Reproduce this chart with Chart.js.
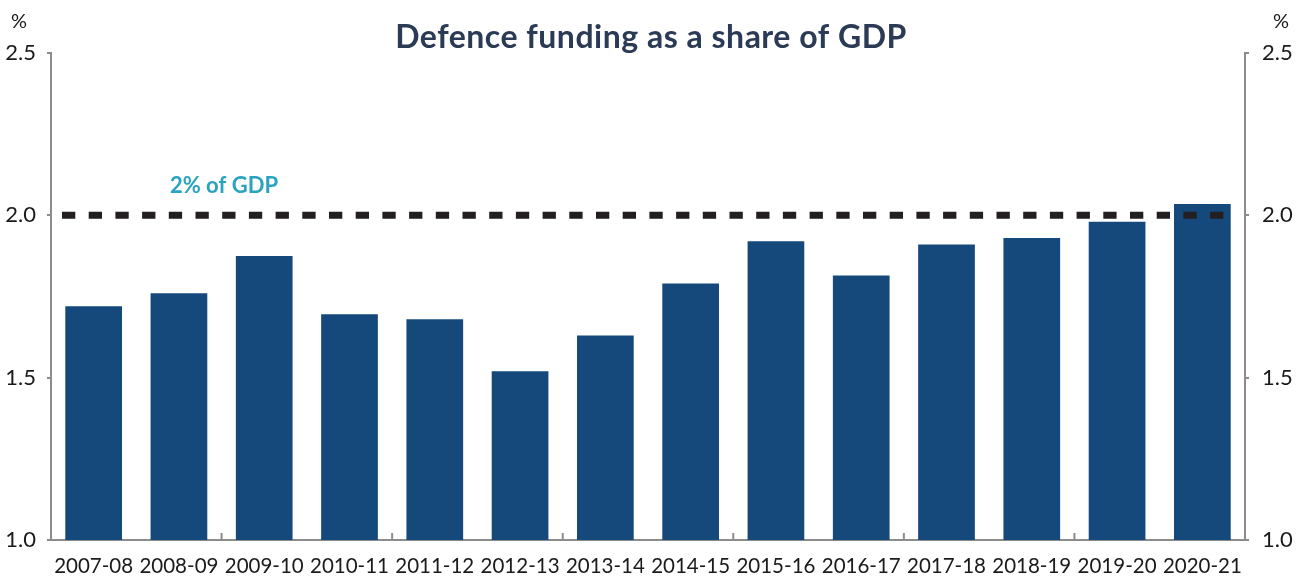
<!DOCTYPE html>
<html>
<head>
<meta charset="utf-8">
<script src="https://cdn.jsdelivr.net/npm/chart.js@4.4.1/dist/chart.umd.min.js"></script>
<style>
html,body{margin:0;padding:0;background:#fff;}
#wrap{width:1304px;height:577px;position:relative;}
</style>
</head>
<body>
<div id="wrap"><canvas id="c" width="1304" height="577"></canvas></div>
<script>
const categories = ["2007-08","2008-09","2009-10","2010-11","2011-12","2012-13","2013-14","2014-15","2015-16","2016-17","2017-18","2018-19","2019-20","2020-21"];
const funding = [1.72,1.76,1.875,1.695,1.68,1.52,1.63,1.79,1.92,1.815,1.91,1.93,1.98,2.035];
const yTicks = [1.0,1.5,2.0,2.5];
const targetValue = 2.0;
const targetLabel = "2% of GDP";
const titleText = "Defence funding as a share of GDP";
const unitText = "%";

const FONT = "Lato, 'DejaVu Sans', sans-serif";
const AXIS = "#8c8c8c";

const overlay = {
  id: 'overlay',
  afterDatasetsDraw(chart) {
    const {ctx, chartArea, scales} = chart;
    const y = scales.y.getPixelForValue(targetValue);
    ctx.save();
    ctx.strokeStyle = "#231f20";
    ctx.lineWidth = 7;
    ctx.setLineDash([13.3, 13.4]);
    ctx.beginPath();
    ctx.moveTo(chartArea.left + 11, y);
    ctx.lineTo(chartArea.right - 21, y);
    ctx.stroke();
    ctx.restore();

    // x-axis inward ticks every two categories
    ctx.save();
    ctx.strokeStyle = AXIS;
    ctx.lineWidth = 2;
    for (let k = 2; k < categories.length; k += 2) {
      const x = (scales.x.getPixelForValue(k - 1) + scales.x.getPixelForValue(k)) / 2;
      ctx.beginPath();
      ctx.moveTo(x, chartArea.bottom);
      ctx.lineTo(x, chartArea.bottom - 7);
      ctx.stroke();
    }
    ctx.restore();
  },
  afterDraw(chart) {
    const {ctx, scales} = chart;
    ctx.save();
    ctx.textBaseline = 'middle';
    ctx.textAlign = 'center';
    ctx.fillStyle = "#2b3a55";
    ctx.font = "bold 32px " + FONT;
    if ('letterSpacing' in ctx) ctx.letterSpacing = "0.5px";
    ctx.fillText(titleText, 651, 38);
    if ('letterSpacing' in ctx) ctx.letterSpacing = "0px";
    ctx.fillStyle = "#1a1a1a";
    ctx.font = "20px " + FONT;
    ctx.fillText(unitText, 19, 22);
    ctx.fillText(unitText, 1281, 22);
    ctx.fillStyle = "#2aa3bf";
    ctx.font = "bold 22px " + FONT;
    const y = scales.y.getPixelForValue(targetValue);
    ctx.fillText(targetLabel, 224, y - 29);
    ctx.restore();
  }
};

new Chart(document.getElementById('c'), {
  type: 'bar',
  data: {
    labels: categories,
    datasets: [{
      data: funding,
      backgroundColor: "#15497c",
      borderWidth: 0,
      categoryPercentage: 1.0,
      barPercentage: 0.665,
      yAxisID: 'y'
    }]
  },
  options: {
    responsive: false,
    animation: false,
    devicePixelRatio: 1,
    layout: {padding: {top: 53, left: 0, right: 0, bottom: 0}},
    plugins: {legend: {display: false}, title: {display: false}, tooltip: {enabled: false}},
    scales: {
      x: {
        offset: true,
        grid: {display: false},
        border: {display: true, color: AXIS, width: 2},
        ticks: {color: "#1a1a1a", font: {family: FONT, size: 20.5}, padding: 6, maxRotation: 0, autoSkip: false},
        afterFit(s) { s.height = 37; }
      },
      y: {
        position: 'left',
        min: 1.0, max: 2.5,
        afterBuildTicks(s) { s.ticks = yTicks.map(v => ({value: v})); },
        grid: {display: true, drawOnChartArea: false, tickLength: 4, color: AXIS, lineWidth: 2},
        border: {display: true, color: AXIS, width: 2},
        ticks: {color: "#1a1a1a", font: {family: FONT, size: 22}, padding: 11, callback: v => Number(v).toFixed(1)},
        afterFit(s) { s.width = 51; }
      },
      y2: {
        position: 'right',
        min: 1.0, max: 2.5,
        afterBuildTicks(s) { s.ticks = yTicks.map(v => ({value: v})); },
        grid: {display: true, drawOnChartArea: false, tickLength: 4, color: AXIS, lineWidth: 2},
        border: {display: true, color: AXIS, width: 2},
        ticks: {color: "#1a1a1a", font: {family: FONT, size: 22}, padding: 13, callback: v => Number(v).toFixed(1)},
        afterFit(s) { s.width = 59; }
      }
    }
  },
  plugins: [overlay]
});
</script>
</body>
</html>
